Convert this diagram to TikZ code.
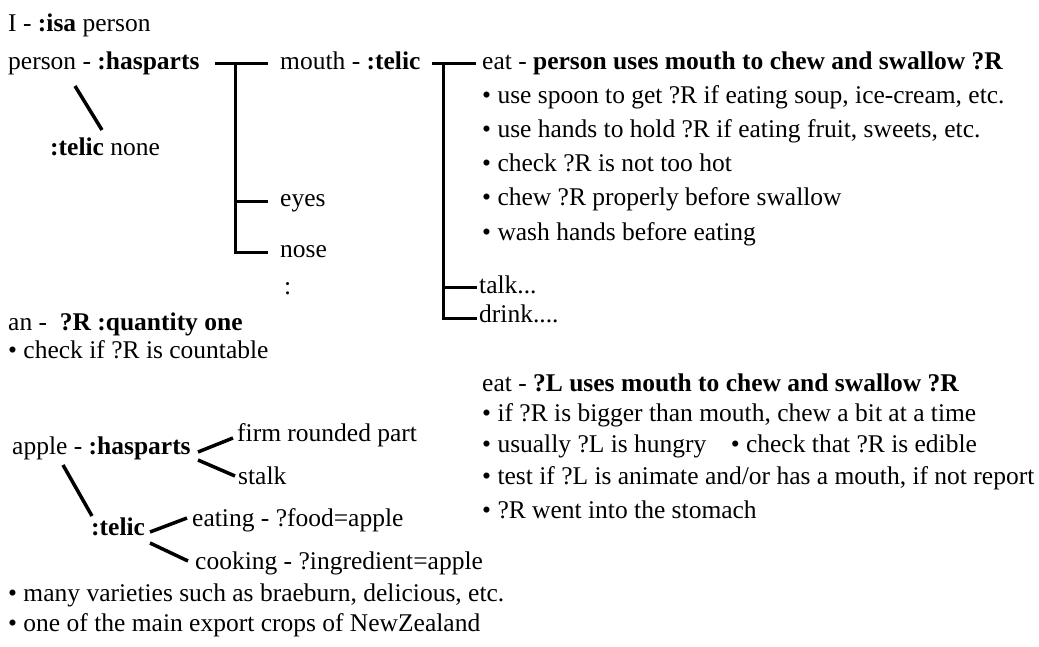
\documentclass[tikz,border=0pt]{standalone}
\usepackage{fontspec}
\setmainfont{Liberation Serif}
\begin{document}
\begin{tikzpicture}[x=1pt,y=-1pt,
  txt/.style={anchor=base west, inner sep=0pt, font=\fontsize{25.5}{30}\selectfont},
  ln/.style={line width=3pt, line cap=butt},
  sl/.style={line width=3.5pt}]
\useasboundingbox[fill=white] (0,0) rectangle (1039,646);

% ---------- top-left block ----------
\node[txt] (isa) at (8,31) {I - \textbf{:isa} person};
\node[txt] (person) at (8,69) {person - \textbf{:hasparts}};
\node[txt] (pnone) at (50,155) {\textbf{:telic} none};
\coordinate (ps1) at (75,86);
\coordinate (ps2) at (102,130);
\draw[sl] (ps1) -- (ps2);

% hasparts bracket
\node[txt] (mouth) at (280,69) {mouth - \textbf{:telic}};
\node[txt] (eyes) at (280,206) {eyes};
\node[txt] (nose) at (280,257) {nose};
\node[txt] (dots) at (284,294) {:};
\coordinate (h0) at (215,63);
\coordinate (hv0) at (235,63);
\coordinate (hm) at (268,63);
\coordinate (hve) at (235,201);
\coordinate (he) at (268,201);
\coordinate (hvn) at (235,252);
\coordinate (hn) at (268,252);
\draw[ln] (h0) -- (hm);
\draw[ln] (hv0) -- (hvn) -- (hn);
\draw[ln] (hve) -- (he);

% telic bracket
\node[txt] (eat1) at (482,69) {eat - \textbf{person uses mouth to chew and swallow ?R}};
\node[txt] (b1) at (482,103) {• use spoon to get ?R if eating soup, ice-cream, etc.};
\node[txt] (b2) at (482,137) {• use hands to hold ?R if eating fruit, sweets, etc.};
\node[txt] (b3) at (482,171) {• check ?R is not too hot};
\node[txt] (b4) at (482,205) {• chew ?R properly before swallow};
\node[txt] (b5) at (482,240) {• wash hands before eating};
\node[txt] (talk) at (479,293) {talk...};
\node[txt] (drink) at (479,322) {drink....};
\coordinate (t0) at (432,63);
\coordinate (tv0) at (443,63);
\coordinate (tm) at (476,63);
\coordinate (tvt) at (443,287);
\coordinate (tt) at (477,287);
\coordinate (tvd) at (443,318);
\coordinate (td) at (477,318);
\draw[ln] (t0) -- (tm);
\draw[ln] (tv0) -- (tvd) -- (td);
\draw[ln] (tvt) -- (tt);

% ---------- an ----------
\node[txt] (an) at (8,330) {an -\ \ \textbf{?R :quantity one}};
\node[txt] (chk) at (8,358) {• check if ?R is countable};

% ---------- eat (general) ----------
\node[txt] (eat2) at (482,391) {eat - \textbf{?L uses mouth to chew and swallow ?R}};
\node[txt] (c1) at (482,421) {• if ?R is bigger than mouth, chew a bit at a time};
\node[txt] (c2) at (482,452) {• usually ?L is hungry\hspace{18pt} • check that ?R is edible};
\node[txt] (c3) at (482,484) {• test if ?L is animate and/or has a mouth, if not report};
\node[txt] (c4) at (482,518) {• ?R went into the stomach};

% ---------- apple ----------
\node[txt] (apple) at (12,454) {apple - \textbf{:hasparts}};
\node[txt] (firm) at (237,441) {firm rounded part};
\node[txt] (stalk) at (238,484) {stalk};
\node[txt] (atelic) at (91,535) {\textbf{:telic}};
\node[txt] (eating) at (192,526) {eating - ?food=apple};
\node[txt] (cooking) at (195,569) {cooking - ?ingredient=apple};
\node[txt] (many) at (8,601) {• many varieties such as braeburn, delicious, etc.};
\node[txt] (one) at (8,631) {• one of the main export crops of NewZealand};

\coordinate (as1) at (63,465);
\coordinate (as2) at (92,516);
\draw[sl] (as1) -- (as2);
\coordinate (ah0) at (198,452);
\coordinate (ah1) at (233,438);
\coordinate (ah2) at (198,460);
\coordinate (ah3) at (235,476);
\draw[sl] (ah0) -- (ah1);
\draw[sl] (ah2) -- (ah3);
\coordinate (at0) at (150,532);
\coordinate (at1) at (187,518);
\coordinate (at2) at (150,543);
\coordinate (at3) at (188,561);
\draw[sl] (at0) -- (at1);
\draw[sl] (at2) -- (at3);
\end{tikzpicture}
\end{document}
